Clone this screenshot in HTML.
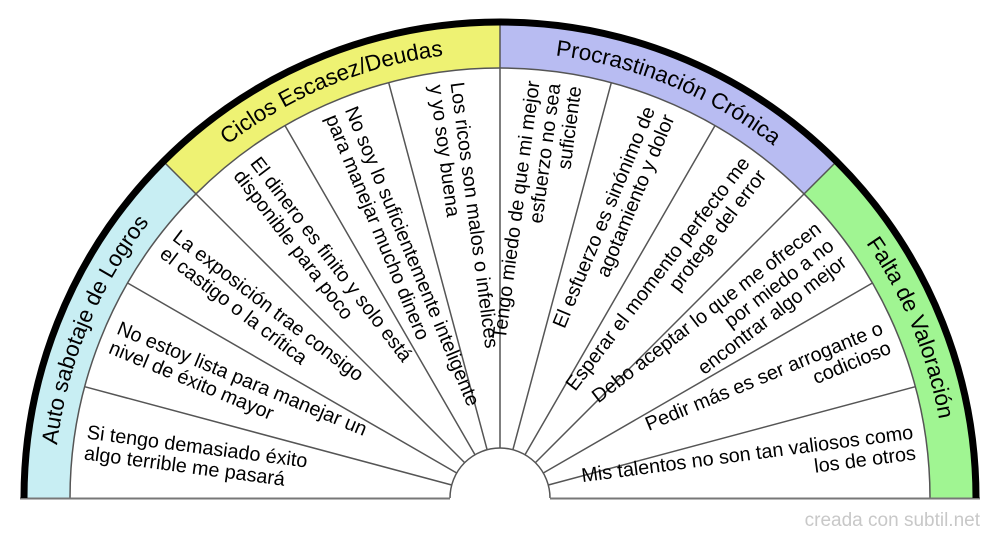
<!DOCTYPE html>
<html><head><meta charset="utf-8"><style>
html,body{margin:0;padding:0;background:#fff;}
svg{display:block;}
text{font-family:"Liberation Sans",sans-serif;}
</style></head><body>
<svg width="1000" height="540" viewBox="0 0 1000 540" xmlns="http://www.w3.org/2000/svg">
<defs>
<path id="arc" d="M 54 498 A 446 446 0 0 1 946 498"/>
</defs>
<path d="M22,498 A478,478 0 0 1 162,160 L195.9,193.9 A430,430 0 0 0 70,498 Z" fill="#c8eef3"/>
<path d="M162,160 A478,478 0 0 1 500,20 L500,68 A430,430 0 0 0 195.9,193.9 Z" fill="#eef273"/>
<path d="M500,20 A478,478 0 0 1 838,160 L804.1,193.9 A430,430 0 0 0 500,68 Z" fill="#b8bcf2"/>
<path d="M838,160 A478,478 0 0 1 978,498 L930,498 A430,430 0 0 0 804.1,193.9 Z" fill="#a0f592"/>
<g stroke="#555" stroke-width="1.5" fill="none">
<path d="M70,498 A430,430 0 0 1 930,498"/>
<line x1="162" y1="160" x2="195.9" y2="193.9"/>
<line x1="500" y1="20" x2="500" y2="68"/>
<line x1="838" y1="160" x2="804.1" y2="193.9"/>
<line x1="84.7" y1="386.7" x2="451.7" y2="485"/>
<line x1="127.6" y1="283" x2="456.7" y2="473"/>
<line x1="195.9" y1="193.9" x2="464.6" y2="462.6"/>
<line x1="285" y1="125.6" x2="475" y2="454.7"/>
<line x1="388.7" y1="82.7" x2="487.1" y2="449.7"/>
<line x1="500" y1="68" x2="500" y2="448"/>
<line x1="611.3" y1="82.7" x2="512.9" y2="449.7"/>
<line x1="715" y1="125.6" x2="525" y2="454.7"/>
<line x1="804.1" y1="193.9" x2="535.4" y2="462.6"/>
<line x1="872.4" y1="283" x2="543.3" y2="473"/>
<line x1="915.3" y1="386.7" x2="548.3" y2="485"/>
<path d="M450,498 A50,50 0 0 1 550,498"/>
<line x1="20" y1="498.5" x2="450" y2="498.5" stroke="#777" stroke-width="2"/>
<line x1="550" y1="498.5" x2="980" y2="498.5" stroke="#777" stroke-width="2"/>
</g>
<path d="M24,498 A476,476 0 0 1 976,498" fill="none" stroke="#000" stroke-width="7"/>
<g font-size="22.5" fill="#000">
<text><textPath href="#arc" startOffset="12.5%" text-anchor="middle">Auto sabotaje de Logros</textPath></text>
<text><textPath href="#arc" startOffset="37.5%" text-anchor="middle">Ciclos Escasez/Deudas</textPath></text>
<text><textPath href="#arc" startOffset="62.5%" text-anchor="middle">Procrastinación Crónica</textPath></text>
<text><textPath href="#arc" startOffset="87.5%" text-anchor="middle">Falta de Valoración</textPath></text>
</g>
<g font-size="19.8" fill="#000" text-anchor="start">
<text transform="translate(85.6,443.5) rotate(7.5)"><tspan x="0" dy="-5">Si tengo demasiado éxito</tspan><tspan x="0" dy="21">algo terrible me pasará</tspan></text>
<text transform="translate(113.8,338) rotate(22.5)"><tspan x="0" dy="-5">No estoy lista para manejar un</tspan><tspan x="0" dy="21">nivel de éxito mayor</tspan></text>
<text transform="translate(168.4,243.5) rotate(37.5)"><tspan x="0" dy="-5">La exposición trae consigo</tspan><tspan x="0" dy="21">el castigo o la crítica</tspan></text>
<text transform="translate(245.5,166.4) rotate(52.5)"><tspan x="0" dy="-5">El dinero es finito y solo está</tspan><tspan x="0" dy="21">disponible para poco</tspan></text>
<text transform="translate(340,111.8) rotate(67.5)"><tspan x="0" dy="-5">No soy lo suficientemente inteligente</tspan><tspan x="0" dy="21">para manejar mucho dinero</tspan></text>
<text transform="translate(445.5,83.6) rotate(82.5)"><tspan x="0" dy="-5">Los ricos son malos o infelices</tspan><tspan x="0" dy="21">y yo soy buena</tspan></text>
</g>
<g font-size="19.8" fill="#000" text-anchor="end">
<text transform="translate(554.5,83.6) rotate(-82.5)"><tspan x="0" dy="-15">Tengo miedo de que mi mejor</tspan><tspan x="0" dy="21">esfuerzo no sea</tspan><tspan x="0" dy="21">suficiente</tspan></text>
<text transform="translate(660,111.8) rotate(-67.5)"><tspan x="0" dy="-5">El esfuerzo es sinónimo de</tspan><tspan x="0" dy="21">agotamiento y dolor</tspan></text>
<text transform="translate(754.5,166.4) rotate(-52.5)"><tspan x="0" dy="-5">Esperar el momento perfecto me</tspan><tspan x="0" dy="21">protege del error</tspan></text>
<text transform="translate(831.6,243.5) rotate(-37.5)"><tspan x="0" dy="-15">Debo aceptar lo que me ofrecen</tspan><tspan x="0" dy="21">por miedo a no</tspan><tspan x="0" dy="21">encontrar algo mejor</tspan></text>
<text transform="translate(886.2,338) rotate(-22.5)"><tspan x="0" dy="-5">Pedir más es ser arrogante o</tspan><tspan x="0" dy="21">codicioso</tspan></text>
<text transform="translate(914.4,443.5) rotate(-7.5)"><tspan x="0" dy="-5">Mis talentos no son tan valiosos como</tspan><tspan x="0" dy="21">los de otros</tspan></text>
</g>
<text x="980" y="526" font-size="19" fill="#c8c8c8" text-anchor="end">creada con subtil.net</text>
</svg>
</body></html>
